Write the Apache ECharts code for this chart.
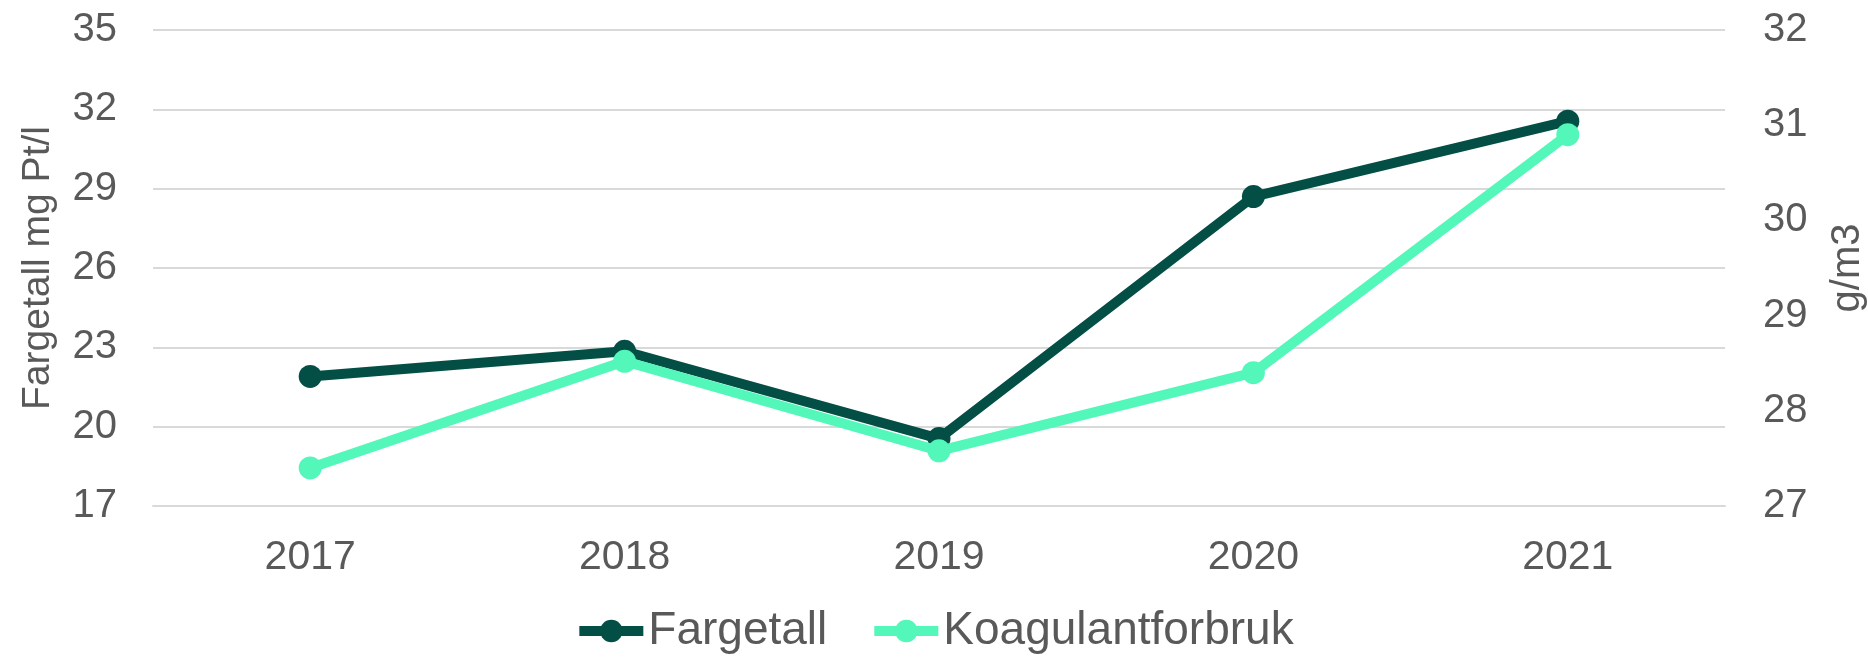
<!DOCTYPE html>
<html>
<head>
<meta charset="utf-8">
<script src="https://cdn.jsdelivr.net/npm/echarts@6/dist/echarts.min.js"></script>
<style>
  html, body { margin: 0; padding: 0; background: #fff; }
  #chart { width: 1868px; height: 657px; }
</style>
</head>
<body>
<div id="chart"></div>
<script>
const years = ["2017", "2018", "2019", "2020", "2021"];
const fargetall = [21.9, 22.85, 19.55, 28.7, 31.55];
const koagulant = [27.4, 28.52, 27.58, 28.4, 30.9];

const darkGreen = "#034F45";
const lightGreen = "#52F7B9";
const textColor = "#595959";
const fontFamily = "'Liberation Sans', Arial, sans-serif";

const chart = echarts.init(document.getElementById("chart"), null, { renderer: "canvas" });

chart.setOption({
  backgroundColor: "#fff",
  animation: false,
  textStyle: { fontFamily },
  grid: { left: 153, right: 143, top: 30, bottom: 151, outerBoundsMode: "none", containLabel: false },
  legend: {
    top: 603,
    left: "center",
    itemWidth: 64,
    itemHeight: 28,
    itemGap: 42,
    lineStyle: { width: 10 },
    textStyle: { color: textColor, fontSize: 46, fontFamily },
    data: ["Fargetall", "Koagulantforbruk"],
  },
  xAxis: {
    type: "category",
    data: years,
    boundaryGap: true,
    axisLine: { show: true, lineStyle: { color: "#D9D9D9", width: 2 } },
    axisTick: { show: false },
    axisLabel: { color: textColor, fontSize: 41, margin: 31 },
  },
  yAxis: [
    {
      type: "value",
      min: 17,
      max: 35,
      interval: 3,
      name: "Fargetall mg Pt/l",
      nameLocation: "middle",
      nameRotate: 90,
      nameGap: 95,
      nameTextStyle: { color: textColor, fontSize: 39 },
      axisLine: { show: false },
      axisTick: { show: false },
      axisLabel: { color: textColor, fontSize: 40, margin: 36 },
      splitLine: { lineStyle: { color: "#D9D9D9", width: 2 } },
    },
    {
      type: "value",
      position: "right",
      min: 27,
      max: 32,
      interval: 1,
      name: "g/m3",
      nameLocation: "middle",
      nameRotate: 90,
      nameGap: 103,
      nameTextStyle: { color: textColor, fontSize: 40 },
      axisLine: { show: false },
      axisTick: { show: false },
      axisLabel: { color: textColor, fontSize: 40, margin: 38 },
      splitLine: { show: false },
    },
  ],
  series: [
    {
      name: "Fargetall",
      type: "line",
      yAxisIndex: 0,
      data: fargetall,
      symbol: "circle",
      symbolSize: 23,
      lineStyle: { color: darkGreen, width: 10 },
      itemStyle: { color: darkGreen },
      z: 2,
    },
    {
      name: "Koagulantforbruk",
      type: "line",
      yAxisIndex: 1,
      data: koagulant,
      symbol: "circle",
      symbolSize: 23,
      lineStyle: { color: lightGreen, width: 10 },
      itemStyle: { color: lightGreen },
      z: 3,
    },
  ],
});
</script>
</body>
</html>
